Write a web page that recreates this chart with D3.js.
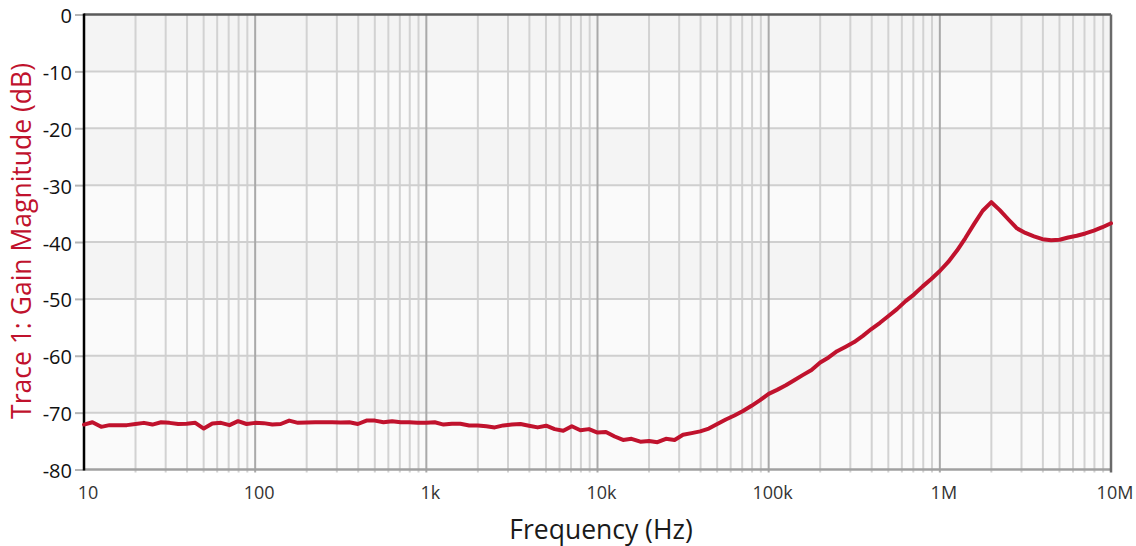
<!DOCTYPE html>
<html>
<head>
<meta charset="utf-8">
<script src="https://cdn.jsdelivr.net/npm/d3@7"></script>
<style>
  html, body { margin: 0; padding: 0; background: #ffffff; }
  svg { display: block; }
</style>
</head>
<body>
<svg id="chart" width="1136" height="546"></svg>
<script>
// ---- data ----
const freqHz = [
  10, 11.2, 12.6, 14.1, 15.8, 17.8, 20, 22.4, 25.1, 28.2, 31.6, 35.5, 39.8, 44.7, 50.1, 56.2, 63.1, 70.8, 79.4, 89.1,
  100, 112, 126, 141, 158, 178, 200, 224, 251, 282, 316, 355, 398, 447, 501, 562, 631, 708, 794, 891,
  1000, 1120, 1260, 1410, 1580, 1780, 2000, 2240, 2510, 2820, 3160, 3550, 3980, 4470, 5010, 5620, 6310, 7080, 7940, 8910,
  10000, 11200, 12600, 14100, 15800, 17800, 20000, 22400, 25100, 28200, 31600, 35500, 39800, 44700, 50100, 56200, 63100, 70800, 79400, 89100,
  100000, 112000, 126000, 141000, 158000, 178000, 200000, 224000, 251000, 282000, 316000, 355000, 398000, 447000, 501000, 562000, 631000, 708000, 794000, 891000,
  1000000, 1120000, 1260000, 1410000, 1580000, 1780000, 2000000, 2240000, 2510000, 2820000, 3160000, 3550000, 3980000, 4470000, 5010000, 5620000, 6310000, 7080000, 7940000, 8910000,
  10000000
];
const gainDb = [
  -72.1, -71.7, -72.5, -72.2, -72.2, -72.2, -72.0, -71.8, -72.1, -71.7, -71.8, -72.0, -71.95, -71.8, -72.8, -71.9, -71.8, -72.2, -71.5, -72.0,
  -71.8, -71.85, -72.1, -72.0, -71.4, -71.8, -71.75, -71.7, -71.7, -71.7, -71.75, -71.7, -72.0, -71.4, -71.4, -71.7, -71.5, -71.7, -71.7, -71.8,
  -71.8, -71.7, -72.1, -71.95, -71.95, -72.25, -72.25, -72.4, -72.6, -72.25, -72.1, -72.0, -72.3, -72.6, -72.3, -72.9, -73.2, -72.4, -73.1, -72.9,
  -73.5, -73.4, -74.2, -74.8, -74.6, -75.1, -75.0, -75.2, -74.6, -74.8, -73.9, -73.6, -73.3, -72.8, -72.0, -71.2, -70.5, -69.7, -68.8, -67.8,
  -66.7, -66.0, -65.2, -64.3, -63.4, -62.5, -61.2, -60.3, -59.2, -58.4, -57.6, -56.5, -55.3, -54.2, -53.0, -51.8, -50.4, -49.2, -47.8, -46.5,
  -45.1, -43.5, -41.5, -39.3, -36.9, -34.5, -33.0, -34.4, -36.0, -37.6, -38.4, -39.0, -39.5, -39.7, -39.6, -39.2, -38.9, -38.5, -38.0, -37.4,
  -36.7
];
const xTickValues = [10, 100, 1000, 10000, 100000, 1000000, 10000000];
const xTickLabels = ["10", "100", "1k", "10k", "100k", "1M", "10M"];
const xMinorMantissas = [2, 3, 4, 5, 6, 7, 8, 9];
const yTickValues = [0, -10, -20, -30, -40, -50, -60, -70, -80];
const yTickLabels = ["0", "-10", "-20", "-30", "-40", "-50", "-60", "-70", "-80"];
const xTitle = "Frequency (Hz)";
const yTitle = "Trace 1: Gain Magnitude (dB)";

// ---- layout ----
const pLeft = 84, pRight = 1111, pTop = 14.5, pBottom = 469.5;
const svg = d3.select("#chart");
const x = d3.scaleLog().domain([10, 1e7]).range([pLeft, pRight]);
const y = d3.scaleLinear().domain([0, -80]).range([pTop, pBottom]);
const FONT = "'Open Sans', 'Noto Sans', sans-serif";

// background bands
const bands = d3.range(0, yTickValues.length - 1).map(i => [yTickValues[i], yTickValues[i + 1], i]);
svg.append("g").selectAll("rect").data(bands).join("rect")
  .attr("x", pLeft).attr("width", pRight - pLeft)
  .attr("y", d => y(d[0])).attr("height", d => y(d[1]) - y(d[0]))
  .attr("fill", d => d[2] % 2 === 0 ? "#f4f4f4" : "#fafafa");

// minor vertical grid
const minor = [];
xTickValues.slice(0, -1).forEach(dec => xMinorMantissas.forEach(m => minor.push(dec * m)));
svg.append("g").selectAll("line").data(minor).join("line")
  .attr("x1", d => x(d)).attr("x2", d => x(d))
  .attr("y1", pTop).attr("y2", pBottom + 3)
  .attr("stroke", "#d2d2d2").attr("stroke-width", 2);

// horizontal grid
svg.append("g").selectAll("line").data(yTickValues.slice(1, -1)).join("line")
  .attr("x1", pLeft).attr("x2", pRight)
  .attr("y1", d => y(d)).attr("y2", d => y(d))
  .attr("stroke", "#cfcfcf").attr("stroke-width", 2);

// decade lines
svg.append("g").selectAll("line").data(xTickValues.slice(1, -1)).join("line")
  .attr("x1", d => x(d)).attr("x2", d => x(d))
  .attr("y1", pTop).attr("y2", pBottom + 3)
  .attr("stroke", "#a9a9a9").attr("stroke-width", 2);

// frame
svg.append("line").attr("x1", pLeft).attr("x2", pRight).attr("y1", pBottom).attr("y2", pBottom)
  .attr("stroke", "#a0a0a0").attr("stroke-width", 2.5);
svg.append("line").attr("x1", pLeft).attr("x2", pRight).attr("y1", pTop).attr("y2", pTop)
  .attr("stroke", "#5a5a5a").attr("stroke-width", 2.5);
svg.append("line").attr("x1", pRight).attr("x2", pRight).attr("y1", pTop).attr("y2", pBottom + 3)
  .attr("stroke", "#6a6a6a").attr("stroke-width", 2.5);

// y axis
const yAxis = d3.axisLeft(y).tickValues(yTickValues).tickFormat((d, i) => yTickLabels[i]).tickSize(9).tickPadding(3);
const gy = svg.append("g").attr("transform", `translate(${pLeft},0)`).call(yAxis);
gy.select(".domain").remove();
gy.selectAll(".tick line").attr("stroke", "#b5b5b5").attr("stroke-width", 2);
gy.selectAll(".tick text").attr("fill", "#111").attr("dy", "0.4em")
  .style("font-family", FONT).style("font-size", "20px");
svg.append("line").attr("x1", pLeft).attr("x2", pLeft).attr("y1", pTop - 1).attr("y2", pBottom + 1)
  .attr("stroke", "#000").attr("stroke-width", 2.5);

// x axis
const xAxis = d3.axisBottom(x).tickValues(xTickValues).tickFormat((d, i) => xTickLabels[i]).tickSize(0).tickPadding(17);
const gx = svg.append("g").attr("transform", `translate(3.5,${pBottom})`).call(xAxis);
gx.select(".domain").remove();
gx.selectAll(".tick text").attr("fill", "#333").style("font-family", FONT).style("font-size", "18px");

// trace
const pts = freqHz.map((f, i) => [f, gainDb[i]]);
svg.append("path").datum(pts)
  .attr("fill", "none").attr("stroke", "#c0122d").attr("stroke-width", 4)
  .attr("stroke-linejoin", "round").attr("stroke-linecap", "round")
  .attr("d", d3.line().x(d => x(d[0])).y(d => y(d[1])));

// titles
svg.append("text").attr("x", 601).attr("y", 539).attr("text-anchor", "middle")
  .attr("fill", "#1a1a1a").style("font-family", FONT).style("font-size", "26.5px")
  .text(xTitle);
svg.append("text").attr("transform", "translate(31,241) rotate(-90)").attr("text-anchor", "middle")
  .attr("fill", "#c0122d").style("font-family", FONT).style("font-size", "26.5px")
  .text(yTitle);
</script>
</body>
</html>
